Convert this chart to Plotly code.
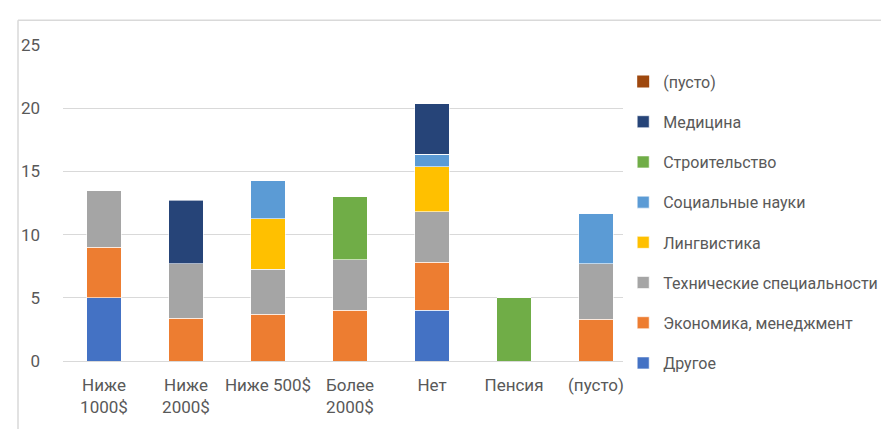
import plotly.graph_objects as go

categories = ["Ниже<br>1000$", "Ниже<br>2000$", "Ниже 500$", "Более<br>2000$", "Нет", "Пенсия", "(пусто)"]

series_names = ["Другое", "Экономика, менеджмент", "Технические специальности",
                "Лингвистика", "Социальные науки", "Строительство", "Медицина", "(пусто)"]

drugoe      = [5, 0, 0, 0, 4, 0, 0]
ekonomika   = [4, 3.4, 3.7, 4, 3.8, 0, 3.3]
tehnicheskie = [4.5, 4.3, 3.55, 4, 4, 0, 4.4]
lingvistika = [0, 0, 4, 0, 3.55, 0, 0]
socialnye   = [0, 0, 3, 0, 1, 0, 4]
stroitelstvo = [0, 0, 0, 5, 0, 5, 0]
medicina    = [0, 5, 0, 0, 4, 0, 0]
pusto       = [0, 0, 0, 0, 0, 0, 0]

series_values = [drugoe, ekonomika, tehnicheskie, lingvistika, socialnye, stroitelstvo, medicina, pusto]
colors = ["#4472C4", "#ED7D31", "#A5A5A5", "#FFC000", "#5B9BD5", "#70AD47", "#264478", "#9E480E"]

y_ticks = [0, 5, 10, 15, 20, 25]

FONT = "Roboto, sans-serif"
TXT = "#595959"

fig = go.Figure()
n = len(series_names)
for i, (name, vals, col) in enumerate(zip(series_names, series_values, colors)):
    fig.add_trace(go.Bar(
        x=categories, y=vals, name=name, legendgroup=f"g{i}", legendrank=n - i,
        marker=dict(color=col, line=dict(color="white", width=0.6 if name != "(пусто)" else 0)),
    ))

fig.update_layout(
    barmode="stack",
    bargap=0.585,
    width=889, height=429,
    margin=dict(l=55, r=260, t=37, b=76, autoexpand=False),
    paper_bgcolor="white", plot_bgcolor="white",
    font=dict(family=FONT, size=17, color=TXT),
    legend=dict(
        traceorder="grouped",
        tracegroupgap=16.4,
        xref="container", yref="container",
        x=0.692, xanchor="left", y=0.868, yanchor="top",
        maxheight=1,
        font=dict(family=FONT, size=16, color=TXT),
        itemwidth=30,
    ),
    xaxis=dict(showgrid=False, showline=False, ticks="", tickfont=dict(size=17, color=TXT),
               ticklabelstandoff=12),
    yaxis=dict(range=[0, 25], tickvals=y_ticks, showgrid=True, gridcolor="#D9D9D9", gridwidth=1,
               zeroline=True, zerolinecolor="#D9D9D9", zerolinewidth=1, showline=False,
               tickfont=dict(size=17, color=TXT), ticklabelstandoff=22),
    shapes=[
        dict(type="line", xref="paper", yref="paper", x0=-0.0784, x1=1.6, y0=1.078, y1=1.078,
             line=dict(color="#D9D9D9", width=1.5)),
        dict(type="line", xref="paper", yref="paper", x0=-0.0784, x1=-0.0784, y0=1.078, y1=-0.25,
             line=dict(color="#D9D9D9", width=1.5)),
    ],
)

fig.write_html("out.html")
